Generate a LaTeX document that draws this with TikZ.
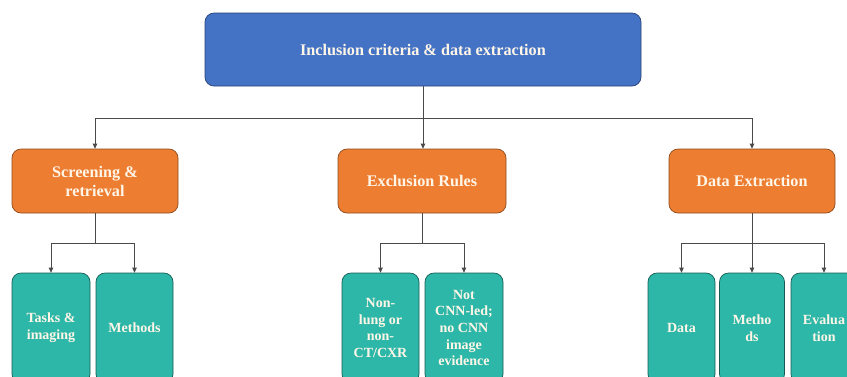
\documentclass[tikz,border=0pt]{standalone}
\usepackage{fontspec}
\setmainfont{Liberation Serif}
\usetikzlibrary{arrows.meta}
\definecolor{topblue}{HTML}{4472C4}
\definecolor{midorange}{HTML}{ED7D31}
\definecolor{leafteal}{HTML}{2DB7A8}
\definecolor{txtcream}{HTML}{FFF6E8}
\definecolor{edgegrey}{HTML}{4A4A4A}
\tikzset{
  box/.style={rectangle, rounded corners=9pt, draw=edgegrey, line width=0.7pt,
    text=txtcream, align=center, font=\bfseries, inner sep=2pt},
  topbox/.style={box, fill=topblue, draw=topblue!60!black, minimum width=436pt, minimum height=73pt,
    font=\fontsize{16.2}{19}\selectfont\bfseries},
  midbox/.style={box, fill=midorange, draw=midorange!60!black, minimum width=166pt, minimum height=64pt,
    font=\fontsize{16.2}{19}\selectfont\bfseries},
  leafbox/.style={box, fill=leafteal, draw=leafteal!50!black, minimum height=110pt,
    font=\fontsize{14}{16.7}\selectfont\bfseries},
  conn/.style={draw=edgegrey, line width=0.8pt},
  arr/.style={conn, -{Triangle[length=5pt,width=4.5pt]}}
}
\begin{document}
\begin{tikzpicture}[x=1pt,y=-1pt]
\useasboundingbox (0,0) rectangle (847,376);
\clip (0,0) rectangle (847,376);
% top
\node[topbox] (top) at (423,49.5) {Inclusion criteria \& data extraction};
% level 2
\node[midbox] (scr) at (95,181) {Screening \&\\retrieval};
\node[midbox, minimum width=168pt] (exc) at (422,181) {Exclusion Rules};
\node[midbox] (dex) at (752,181) {Data Extraction};
% leaves
\node[leafbox, minimum width=78pt] (l1) at (51,328) {Tasks \&\\imaging};
\node[leafbox, minimum width=77pt] (l2) at (134.5,328) {Methods};
\node[leafbox, minimum width=77pt] (l3) at (380.5,328) {Non-\\lung or\\non-\\CT/CXR};
\node[leafbox, minimum width=78pt] (l4) at (464,328) {Not\\CNN-led;\\no CNN\\image\\evidence};
\node[leafbox, minimum width=67pt] (l5) at (681.5,328) {Data};
\node[leafbox, minimum width=65pt] (l6) at (752,328) {Metho\\ds};
\node[leafbox, minimum width=66pt] (l7) at (824,328) {Evalua\\tion};
% top connectors
\coordinate (tb) at ([yshift=-32pt]top.south);
\draw[arr] (top.south) -- (exc.north -| top.south);
\draw[arr] (tb) -| (scr.north);
\draw[arr] (tb) -| (dex.north);
% screening
\coordinate (sb) at ([yshift=-30pt]scr.south);
\draw[conn] (scr.south) -- (sb);
\draw[arr] (sb) -| (l1.north);
\draw[arr] (sb) -| (l2.north);
% exclusion
\coordinate (eb) at ([yshift=-30pt]exc.south);
\draw[conn] (exc.south) -- (eb);
\draw[arr] (eb) -| (l3.north);
\draw[arr] (eb) -| (l4.north);
% data extraction
\coordinate (db) at ([yshift=-30pt]dex.south);
\draw[arr] (dex.south) -- (l6.north -| dex.south);
\draw[arr] (db) -| (l5.north);
\draw[arr] (db) -| (l7.north);
\end{tikzpicture}
\end{document}
